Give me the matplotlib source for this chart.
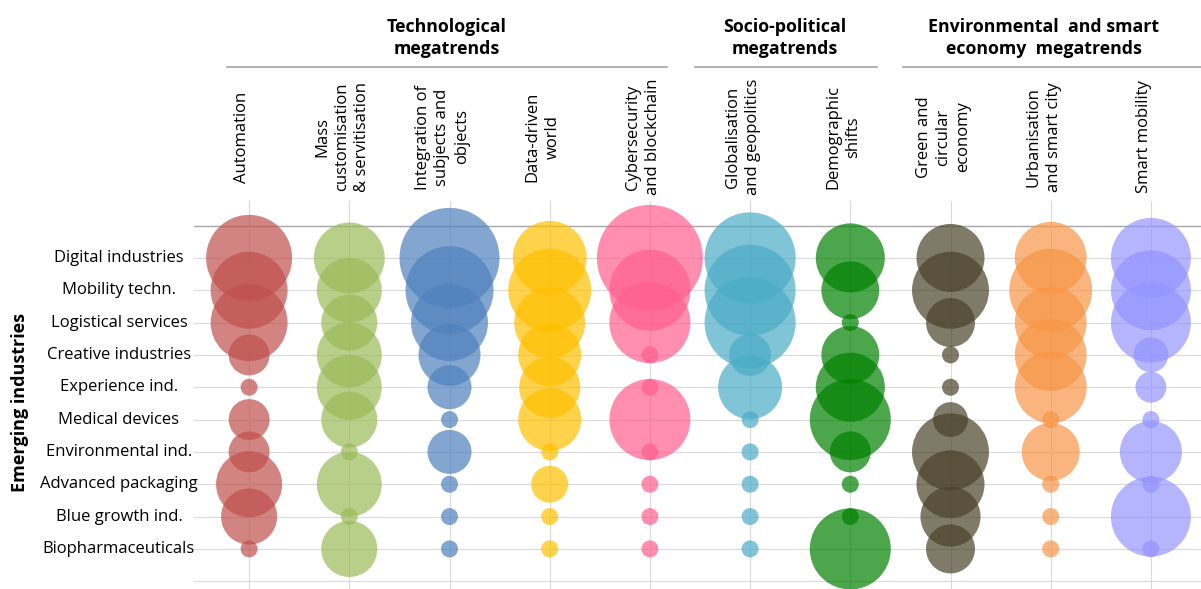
import matplotlib
matplotlib.use("Agg")
import matplotlib.pyplot as plt
from matplotlib.lines import Line2D
from matplotlib.transforms import blended_transform_factory

plt.rcParams['font.family'] = ['Open Sans', 'DejaVu Sans']

# ---------------- data ----------------
industries = ["Digital industries", "Mobility techn.", "Logistical services",
              "Creative industries", "Experience ind.", "Medical devices",
              "Environmental ind.", "Advanced packaging", "Blue growth ind.",
              "Biopharmaceuticals"]

megatrends = ["Automation", "Mass\ncustomisation\n& servitisation",
              "Integration of\nsubjects and\nobjects", "Data-driven\nworld",
              "Cybersecurity\nand blockchain", "Globalisation\nand geopolitics",
              "Demographic\nshifts", "Green and\ncircular\neconomy",
              "Urbanisation\nand smart city", "Smart mobility"]

groups = ["Technological\nmegatrends", "Socio-political\nmegatrends",
          "Environmental  and smart\neconomy  megatrends"]

# relevance score per megatrend (bubble area), rows follow `industries`
automation = [25.6, 20.5, 20.5, 5.8, 1.0, 5.8, 5.8, 15.1, 10.9, 1.0]
mass_custom = [17.4, 14.6, 10.9, 14.6, 14.6, 10.9, 1.0, 14.6, 1.0, 10.9]
integration = [34.6, 26.8, 20.5, 13.3, 6.7, 1.0, 6.7, 1.0, 1.0, 1.0]
data_driven = [18.9, 23.8, 17.4, 13.7, 12.9, 13.7, 1.0, 4.7, 1.0, 1.0]
cybersecurity = [38.9, 22.7, 22.7, 1.0, 1.0, 22.7, 1.0, 1.0, 1.0, 1.0]
globalisation = [28.7, 28.7, 28.7, 6.1, 14.2, 1.0, 1.0, 1.0, 1.0, 1.0]
demographic = [16.5, 11.6, 1.0, 11.6, 16.5, 22.7, 5.8, 1.0, 1.0, 22.7]
green_circular = [16.0, 20.5, 8.3, 1.0, 1.0, 4.2, 20.5, 16.0, 12.5, 8.3]
urbanisation = [17.9, 23.8, 17.9, 17.9, 17.9, 1.0, 11.6, 1.0, 1.0, 1.0]
smart_mobility = [22.1, 22.1, 22.1, 4.2, 3.3, 1.0, 13.3, 1.0, 22.1, 1.0]

series = [automation, mass_custom, integration, data_driven, cybersecurity,
          globalisation, demographic, green_circular, urbanisation, smart_mobility]

colors = ["#C0504D", "#9BBB59", "#4F81BD", "#FFC000", "#FF5F8F",
          "#4BACC6", "#008000", "#4A4229", "#F79646", "#9494FF"]

# ---------------- figure ----------------
W, H, DPI = 1201, 589, 100
fig = plt.figure(figsize=(W / DPI, H / DPI), dpi=DPI)
ax = fig.add_axes([194 / W, 0, 1 - 194 / W, (H - 201) / H])

n_cols = len(megatrends)
n_rows = len(industries)
ax.set_xlim(-0.55, n_cols - 0.5)
ax.set_ylim(n_rows + 0.24, -1.76)

# grid
for r in range(n_rows + 1):
    ax.axhline(r, color="#d9d9d9", lw=0.8, zorder=0, clip_on=False)
ax.axhline(-1, color="#a6a6a6", lw=1.0, zorder=0)
for c in range(n_cols):
    ax.axvline(c, color="#d9d9d9", lw=0.8, zorder=0)

size_unit = (17 * 72 / DPI) ** 2  # area of a bubble of score 1
for c, (vals, col) in enumerate(zip(series, colors)):
    ax.scatter([c] * n_rows, range(n_rows), s=[v * size_unit for v in vals],
               color=col, alpha=0.7, linewidths=0, zorder=2, clip_on=False)

for s in ax.spines.values():
    s.set_visible(False)
ax.set_xticks([])
ax.set_yticks([])

# row labels
tr_rows = blended_transform_factory(fig.transFigure, ax.transData)
for r, name in enumerate(industries):
    ax.text(119 / W, r, name, transform=tr_rows, ha="center", va="center",
            fontsize=12, color="#000000")

fig.text(20 / W, (H - 402) / H, "Emerging industries", rotation=90,
         ha="center", va="center", fontsize=13, fontweight="bold")

# column labels
tr_cols = blended_transform_factory(ax.transData, fig.transFigure)
for c, name in enumerate(megatrends):
    ax.text(c - 0.07, (H - 137) / H, name, transform=tr_cols, rotation=90,
            ha="center", va="center", multialignment="center",
            fontsize=12, linespacing=1.33, color="#000000")

# group headers
header_x_px = [447, 785, 1044]
line_px = [(227, 667), (695, 877), (903, 1201)]
for label, hx, (x0, x1) in zip(groups, header_x_px, line_px):
    fig.text(hx / W, (H - 38) / H, label, ha="center",
             va="center", fontsize=12.8, fontweight="bold", linespacing=1.32)
    fig.add_artist(Line2D([x0 / W, x1 / W], [(H - 67) / H] * 2,
                          transform=fig.transFigure, color="#a6a6a6", lw=1.2))

fig.savefig("out.png", dpi=DPI)
